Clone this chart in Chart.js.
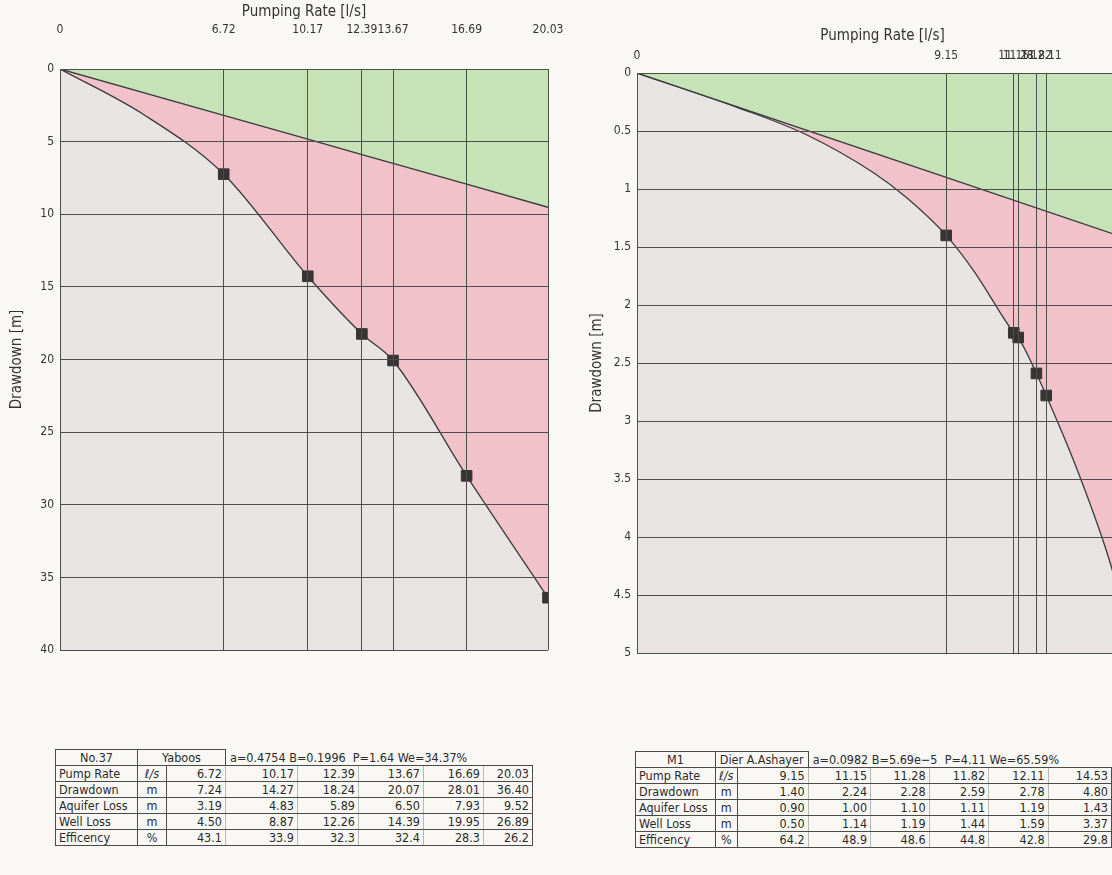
<!DOCTYPE html>
<html>
<head>
<meta charset="utf-8">
<title>Step drawdown test</title>
<script src="https://cdn.jsdelivr.net/npm/chart.js@4.4.0/dist/chart.umd.min.js"></script>
<style>
  html, body { margin: 0; padding: 0; }
  body {
    width: 1112px; height: 875px; overflow: hidden; position: relative;
    background: #faf8f4; color: #2b2b2b;
    font-family: 'Liberation Sans Narrow', 'DejaVu Sans Condensed', 'Liberation Sans', sans-serif;
  }
  .box { position: absolute; top: 0; height: 700px; }
  #boxL { left: 0; width: 580px; }
  #boxR { left: 580px; width: 600px; }
  .tbl { position: absolute; border-collapse: collapse; table-layout: fixed; font-size: 12.5px; line-height: 15px; }
  .tbl td { border: 1px solid #4a4a4a; padding: 0 3px; height: 15px; white-space: nowrap; overflow: hidden; }
  .tbl td.c { text-align: center; }
  .tbl td.v { text-align: right; border-left-color: #b8b8b8; border-right-color: #b8b8b8; }
  .tbl td.v.last { border-right-color: #4a4a4a; }
  .tbl td.p { border: none; border-bottom: 1px solid #4a4a4a; white-space: pre; padding-left: 4px; }
  #tblL { left: 55px; top: 749px; }
  #tblR { left: 635px; top: 751px; }
</style>
</head>
<body>
<div class="box" id="boxL"><canvas id="chartL" width="580" height="700"></canvas></div>
<div class="box" id="boxR"><canvas id="chartR" width="600" height="700"></canvas></div>
<table class="tbl" id="tblL"></table>
<table class="tbl" id="tblR"></table>
<script>
// --- Well No.37 (Yaboos) ---
const pumpL = [6.72, 10.17, 12.39, 13.67, 16.69, 20.03];
const drawdownL = [7.24, 14.27, 18.24, 20.07, 28.01, 36.40];
const aquiferL = [3.19, 4.83, 5.89, 6.50, 7.93, 9.52];
const wellLossL = [4.50, 8.87, 12.26, 14.39, 19.95, 26.89];
const effL = [43.1, 33.9, 32.3, 32.4, 28.3, 26.2];
const curveReadQL = [3.4];
const curveReadSL = [3.1];

// --- Well M1 (Dier A.Ashayer) ---
const pumpR = [9.15, 11.15, 11.28, 11.82, 12.11, 14.53];
const drawdownR = [1.40, 2.24, 2.28, 2.59, 2.78, 4.80];
const aquiferR = [0.90, 1.00, 1.10, 1.11, 1.19, 1.43];
const wellLossR = [0.50, 1.14, 1.19, 1.44, 1.59, 3.37];
const effR = [64.2, 48.9, 48.6, 44.8, 42.8, 29.8];
const curveReadQR = [3, 5, 7, 8, 10, 13, 14];
const curveReadSR = [0.30, 0.53, 0.86, 1.08, 1.72, 3.40, 4.22];
// aquifer loss line as seen in the picture (straight from origin)
const aqLineQR = [0, 9.15, 14.53];
const aqLineSR = [0, 0.90, 1.43];

const FONT = "'Liberation Sans Narrow', 'DejaVu Sans Condensed', 'Liberation Sans', sans-serif";
const GRID = '#4d4d4d';

const plotBg = {
  id: 'plotBg',
  beforeDraw(chart, args, opts) {
    const { ctx, chartArea: a } = chart;
    ctx.save();
    ctx.fillStyle = opts.color;
    ctx.fillRect(a.left, a.top, a.right - a.left, a.bottom - a.top);
    ctx.restore();
  }
};

function buildChart(id, o) {
  const pts = o.pump.map((q, i) => ({ x: q, y: o.draw[i] }));
  const curve = [{ x: 0, y: 0 }]
    .concat(o.readQ.map((q, i) => ({ x: q, y: o.readS[i] })))
    .concat(pts)
    .sort((a, b) => a.x - b.x);
  const aqLine = o.aqQ.map((q, i) => ({ x: q, y: o.aqS[i] }));

  return new Chart(document.getElementById(id), {
    type: 'line',
    data: {
      datasets: [
        { data: pts, showLine: false, pointStyle: 'rect', pointRadius: 7.5,
          backgroundColor: '#383434', borderColor: '#383434', order: 0 },
        { data: aqLine, borderColor: '#3a3a3a', borderWidth: 1.4, pointRadius: 0,
          fill: { value: 0 }, backgroundColor: '#c5e3b6', order: 1 },
        { data: curve, borderColor: '#3a3a3a', borderWidth: 1.3, pointRadius: 0,
          cubicInterpolationMode: 'monotone',
          fill: { value: 0 }, backgroundColor: '#f1c2ca', order: 2 }
      ]
    },
    options: {
      responsive: false, animation: false,
      layout: { padding: { left: 0, top: 0, right: o.padR, bottom: o.padB } },
      plugins: { legend: { display: false }, tooltip: { enabled: false }, plotBg: { color: '#e7e4e3' } },
      scales: {
        x: {
          type: 'linear', position: 'top', min: 0, max: o.xMax,
          afterBuildTicks: s => { s.ticks = [0].concat(o.pump).map(v => ({ value: v })); },
          afterFit: s => { s.height = o.topH; s.paddingLeft = 0; s.paddingRight = 0; },
          ticks: { autoSkip: false, maxRotation: 0, padding: o.tickPad, color: '#333',
                   font: { family: FONT, size: 12 }, callback: v => String(v) },
          grid: { color: GRID, lineWidth: 1, drawTicks: false, z: 1 },
          border: { display: true, color: GRID, z: 1 },
          title: { display: true, text: 'Pumping Rate [l/s]', color: '#333',
                   font: { family: FONT, size: 15 }, padding: { top: o.titlePad, bottom: 0 } }
        },
        y: {
          type: 'linear', reverse: true, min: 0, max: o.yMax,
          afterFit: s => { s.width = o.leftW; s.paddingTop = 0; s.paddingBottom = 0; },
          ticks: { stepSize: o.yStep, padding: 6, color: '#333',
                   font: { family: FONT, size: 12 }, callback: v => String(v) },
          grid: { color: GRID, lineWidth: 1, drawTicks: false, z: 1 },
          border: { display: true, color: GRID, z: 1 },
          title: { display: true, text: 'Drawdown [m]', color: '#333',
                   font: { family: FONT, size: 15 }, padding: { top: 8, bottom: 0 } }
        }
      }
    },
    plugins: [plotBg]
  });
}

buildChart('chartL', {
  pump: pumpL, draw: drawdownL, readQ: curveReadQL, readS: curveReadSL,
  aqQ: [0].concat(pumpL), aqS: [0].concat(aquiferL),
  xMax: 20.03, yMax: 40, yStep: 5,
  leftW: 60, topH: 69, padR: 32, padB: 50, tickPad: 32, titlePad: 3
});

buildChart('chartR', {
  pump: pumpR, draw: drawdownR, readQ: curveReadQR, readS: curveReadSR,
  aqQ: aqLineQR, aqS: aqLineSR,
  xMax: 14.53, yMax: 5, yStep: 0.5,
  leftW: 57, topH: 73, padR: 52, padB: 47, tickPad: 10, titlePad: 27
});

// --- tables ---
function buildTable(id, head, cols, rows) {
  const t = document.getElementById(id);
  let html = '<colgroup>' + cols.map(w => `<col style="width:${w}px">`).join('') + '</colgroup>';
  html += `<tr><td class="c">${head[0]}</td><td class="c" colspan="2">${head[1]}</td>` +
          `<td class="p" colspan="5">${head[2]}</td></tr>`;
  rows.forEach(r => {
    html += `<tr><td>${r.label}</td><td class="c">${r.unit}</td>` +
      r.vals.map((v, i) => `<td class="v${i === r.vals.length - 1 ? ' last' : ''}">${v.toFixed(r.dec)}</td>`).join('') +
      '</tr>';
  });
  t.innerHTML = html;
}

function rowsFor(pump, draw, aq, wl, eff) {
  return [
    { label: 'Pump Rate', unit: '<i>ℓ/s</i>', vals: pump, dec: 2 },
    { label: 'Drawdown', unit: 'm', vals: draw, dec: 2 },
    { label: 'Aquifer Loss', unit: 'm', vals: aq, dec: 2 },
    { label: 'Well Loss', unit: 'm', vals: wl, dec: 2 },
    { label: 'Efficency', unit: '%', vals: eff, dec: 1 }
  ];
}

buildTable('tblL', ['No.37', 'Yaboos', 'a=0.4754 B=0.1996  P=1.64 We=34.37%'],
  [82, 29, 59, 72, 61, 65, 60, 49],
  rowsFor(pumpL, drawdownL, aquiferL, wellLossL, effL));

buildTable('tblR', ['M1', 'Dier A.Ashayer', 'a=0.0982 B=5.69e−5  P=4.11 We=65.59%'],
  [80, 22, 71, 63, 59, 60, 60, 64],
  rowsFor(pumpR, drawdownR, aquiferR, wellLossR, effR));
</script>
</body>
</html>
